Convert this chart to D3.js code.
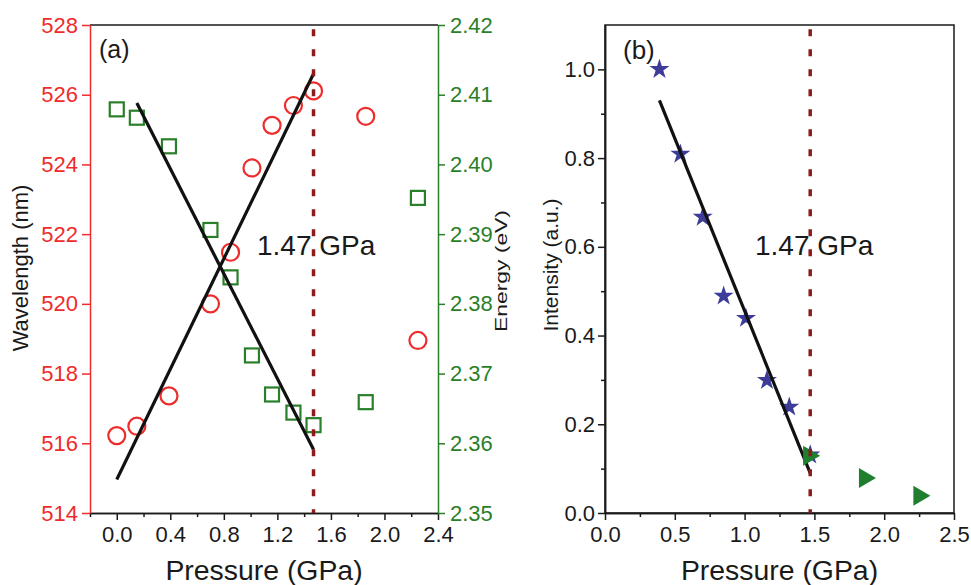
<!DOCTYPE html>
<html>
<head>
<meta charset="utf-8">
<script src="https://cdn.jsdelivr.net/npm/d3@7"></script>
<style>
  body { margin: 0; background: #fff; }
  svg { display: block; font-family: "Liberation Sans", Arial, sans-serif; }
</style>
</head>
<body>
<svg id="chart"></svg>
<script>
// data
const pressureA = [0, 0.15, 0.39, 0.70, 0.85, 1.01, 1.16, 1.32, 1.47, 1.86, 2.25];
const wavelength = [516.22, 516.49, 517.36, 520.0, 521.48, 523.90, 525.12, 525.69, 526.11, 525.38, 518.95];
const energy = [2.4079, 2.4067, 2.4026, 2.3906, 2.3838, 2.3726, 2.3670, 2.3644, 2.3626, 2.3659, 2.3952];
const fitWavelength = [[0.0, 514.96], [1.47, 526.6]];
const fitEnergy = [[0.15, 2.4088], [1.47, 2.3591]];

const pressureStar = [0.39, 0.54, 0.70, 0.85, 1.01, 1.16, 1.32, 1.47];
const intensityStar = [1.0, 0.809, 0.667, 0.489, 0.439, 0.299, 0.239, 0.131];
const pressureTri = [1.48, 1.88, 2.27];
const intensityTri = [0.129, 0.079, 0.039];
const fitIntensity = [[0.39, 0.93], [1.47, 0.09]];

const transitionP = 1.47;
const transitionLabel = '1.47 GPa';

const ticksAx = [0.0, 0.4, 0.8, 1.2, 1.6, 2.0, 2.4];
const minorAx = [-0.2, 0.2, 0.6, 1.0, 1.4, 1.8, 2.2];
const ticksWl = [514, 516, 518, 520, 522, 524, 526, 528];
const ticksEn = [2.35, 2.36, 2.37, 2.38, 2.39, 2.40, 2.41, 2.42];
const ticksBx = [0.0, 0.5, 1.0, 1.5, 2.0, 2.5];
const minorBx = [0.25, 0.75, 1.25, 1.75, 2.25];
const ticksBy = [0.0, 0.2, 0.4, 0.6, 0.8, 1.0];
const minorBy = [0.1, 0.3, 0.5, 0.7, 0.9];

const W = 971, H = 585;
const plotTop = 25, plotBottom = 513;
const red = '#ee2c2c', green = '#2a7f2a', navy = '#3d3d99', triGreen = '#1f7f2f';
const dark = '#1a1a1a', dashCol = '#8e1b1b';

const svg = d3.select('#chart').attr('width', W).attr('height', H);

function styleAxis(g, color, size) {
    g.attr('color', color)
        .attr('font-size', size)
        .attr('font-family', '"Liberation Sans", Arial, sans-serif');
    g.select('.domain').attr('stroke-width', 1.5);
    g.selectAll('.tick line').attr('stroke-width', 1.5);
}

// ---------- panel (a) ----------
const ax = d3.scaleLinear().domain([-0.2, 2.4]).range([90, 438]);
const yW = d3.scaleLinear().domain([514, 528]).range([plotBottom, plotTop]);
const yE = d3.scaleLinear().domain([2.35, 2.42]).range([plotBottom, plotTop]);

const ga = svg.append('g');

ga.append('line')
    .attr('x1', ax.range()[0]).attr('x2', ax.range()[1])
    .attr('y1', plotTop).attr('y2', plotTop)
    .attr('stroke', dark).attr('stroke-width', 1.5);

ga.append('g')
    .attr('transform', `translate(0, ${plotBottom})`)
    .call(d3.axisBottom(ax).tickValues(minorAx).tickSize(4).tickSizeOuter(0).tickFormat(''))
    .call(g => styleAxis(g, dark, 22));
ga.append('g')
    .attr('transform', `translate(0, ${plotBottom})`)
    .call(d3.axisBottom(ax).tickValues(ticksAx).tickSize(7).tickSizeOuter(0).tickPadding(6).tickFormat(d3.format('.1f')))
    .call(g => styleAxis(g, dark, 22));

ga.append('g')
    .attr('transform', `translate(${ax.range()[0]}, 0)`)
    .call(d3.axisLeft(yW).tickValues(ticksWl).tickSize(8).tickSizeOuter(0).tickPadding(4))
    .call(g => styleAxis(g, red, 22));

ga.append('g')
    .attr('transform', `translate(${ax.range()[1]}, 0)`)
    .call(d3.axisRight(yE).tickValues(ticksEn).tickSize(7).tickSizeOuter(0).tickPadding(5).tickFormat(d3.format('.2f')))
    .call(g => styleAxis(g, green, 22));

// markers
ga.selectAll('.circ')
    .data(pressureA.map((p, i) => [p, wavelength[i]]))
    .enter().append('circle')
    .attr('class', 'circ')
    .attr('cx', d => ax(d[0])).attr('cy', d => yW(d[1]))
    .attr('r', 8.5)
    .attr('fill', 'none').attr('stroke', red).attr('stroke-width', 2.2);

ga.selectAll('.sq')
    .data(pressureA.map((p, i) => [p, energy[i]]))
    .enter().append('rect')
    .attr('class', 'sq')
    .attr('x', d => ax(d[0]) - 7).attr('y', d => yE(d[1]) - 7)
    .attr('width', 14).attr('height', 14)
    .attr('fill', 'none').attr('stroke', green).attr('stroke-width', 2.2);

// fit lines
ga.append('path')
    .datum(fitWavelength)
    .attr('d', d3.line().x(d => ax(d[0])).y(d => yW(d[1])))
    .attr('stroke', '#111').attr('stroke-width', 3.2).attr('fill', 'none');
ga.append('path')
    .datum(fitEnergy)
    .attr('d', d3.line().x(d => ax(d[0])).y(d => yE(d[1])))
    .attr('stroke', '#111').attr('stroke-width', 3.2).attr('fill', 'none');

ga.append('line')
    .attr('x1', ax(transitionP)).attr('x2', ax(transitionP))
    .attr('y1', plotTop).attr('y2', plotBottom)
    .attr('stroke', dashCol).attr('stroke-width', 3.5)
    .attr('stroke-dasharray', '7,13').attr('stroke-dashoffset', 15.7);

ga.append('text').attr('x', 99).attr('y', 58)
    .attr('font-size', 25).attr('fill', dark).text('(a)');
ga.append('text').attr('x', 257).attr('y', 255)
    .attr('font-size', 28).attr('fill', dark).text(transitionLabel);

ga.append('text')
    .attr('transform', 'translate(28, 268) rotate(-90)')
    .attr('text-anchor', 'middle').attr('font-size', 22).attr('fill', dark)
    .text('Wavelength (nm)');
ga.append('text')
    .attr('transform', 'translate(507, 271) rotate(-90)')
    .attr('text-anchor', 'middle').attr('font-size', 16.5).attr('fill', dark)
    .attr('textLength', 122).attr('lengthAdjust', 'spacingAndGlyphs')
    .text('Energy (eV)');
ga.append('text')
    .attr('x', (ax.range()[0] + ax.range()[1]) / 2).attr('y', 580)
    .attr('text-anchor', 'middle').attr('font-size', 28.4).attr('fill', dark)
    .text('Pressure (GPa)');

// ---------- panel (b) ----------
const bx = d3.scaleLinear().domain([0, 2.5]).range([605, 954]);
const by = d3.scaleLinear().domain([0, 1.1]).range([plotBottom, plotTop]);

const gb = svg.append('g');

gb.append('rect')
    .attr('x', bx.range()[0]).attr('y', plotTop)
    .attr('width', bx.range()[1] - bx.range()[0]).attr('height', plotBottom - plotTop)
    .attr('fill', 'none').attr('stroke', dark).attr('stroke-width', 1.5);

gb.append('g')
    .attr('transform', `translate(0, ${plotBottom})`)
    .call(d3.axisBottom(bx).tickValues(minorBx).tickSize(4).tickSizeOuter(0).tickFormat(''))
    .call(g => styleAxis(g, dark, 22));
gb.append('g')
    .attr('transform', `translate(0, ${plotBottom})`)
    .call(d3.axisBottom(bx).tickValues(ticksBx).tickSize(7).tickSizeOuter(0).tickPadding(6).tickFormat(d3.format('.1f')))
    .call(g => styleAxis(g, dark, 22));
gb.append('g')
    .attr('transform', `translate(${bx.range()[0]}, 0)`)
    .call(d3.axisLeft(by).tickValues(minorBy).tickSize(4).tickSizeOuter(0).tickFormat(''))
    .call(g => styleAxis(g, dark, 22));
gb.append('g')
    .attr('transform', `translate(${bx.range()[0]}, 0)`)
    .call(d3.axisLeft(by).tickValues(ticksBy).tickSize(7).tickSizeOuter(0).tickPadding(3).tickFormat(d3.format('.1f')))
    .call(g => styleAxis(g, dark, 22));

gb.selectAll('.star')
    .data(pressureStar.map((p, i) => [p, intensityStar[i]]))
    .enter().append('path')
    .attr('class', 'star')
    .attr('transform', d => `translate(${bx(d[0])}, ${by(d[1])})`)
    .attr('d', d3.symbol(d3.symbolStar, 125))
    .attr('fill', navy);

gb.append('path')
    .datum(fitIntensity)
    .attr('d', d3.line().x(d => bx(d[0])).y(d => by(d[1])))
    .attr('stroke', '#111').attr('stroke-width', 3.2).attr('fill', 'none');

gb.selectAll('.tri')
    .data(pressureTri.map((p, i) => [p, intensityTri[i]]))
    .enter().append('path')
    .attr('class', 'tri')
    .attr('transform', d => `translate(${bx(d[0])}, ${by(d[1])})`)
    .attr('d', 'M-8.5,-10L8.5,0L-8.5,10Z')
    .attr('fill', triGreen);

gb.append('line')
    .attr('x1', bx(transitionP)).attr('x2', bx(transitionP))
    .attr('y1', plotTop).attr('y2', plotBottom)
    .attr('stroke', dashCol).attr('stroke-width', 3.5)
    .attr('stroke-dasharray', '7,13').attr('stroke-dashoffset', 15.7);

gb.append('text').attr('x', 623).attr('y', 59)
    .attr('font-size', 26).attr('fill', dark).text('(b)');
gb.append('text').attr('x', 755).attr('y', 255)
    .attr('font-size', 28).attr('fill', dark).text(transitionLabel);

gb.append('text')
    .attr('transform', 'translate(558, 265) rotate(-90)')
    .attr('text-anchor', 'middle').attr('font-size', 21).attr('fill', dark)
    .text('Intensity (a.u.)');
gb.append('text')
    .attr('x', (bx.range()[0] + bx.range()[1]) / 2).attr('y', 580)
    .attr('text-anchor', 'middle').attr('font-size', 28.4).attr('fill', dark)
    .text('Pressure (GPa)');
</script>
</body>
</html>
